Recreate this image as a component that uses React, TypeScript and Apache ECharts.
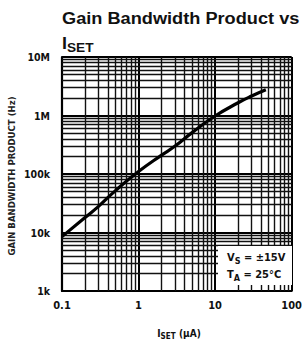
import React, { useEffect, useRef } from "react";
import * as echarts from "echarts";

const xValues = [0.1, 0.2, 0.3, 0.5, 1, 2, 3, 5, 10, 20, 30, 46];
const yValues = [8.5e3, 18e3, 28e3, 52e3, 110e3, 210e3, 300e3, 510e3, 980e3, 1.65e6, 2.15e6, 2.75e6];
const xTickLabels = ["0.1", "1", "10", "100"];
const yTickLabels = ["1k", "10k", "100k", "1M", "10M"];
const xDecades = [0.1, 1, 10];
const yDecades = [1e3, 1e4, 1e5, 1e6];
const minorSteps = [2, 3, 4, 5, 6, 7, 8, 9];

const FONT = "'DejaVu Sans Condensed', 'Liberation Sans Narrow', 'Liberation Sans', sans-serif";
const TFONT = "'Liberation Sans', Arial, sans-serif";

export default function App() {
  const ref = useRef<HTMLDivElement>(null);
  useEffect(() => {
    if (!ref.current) return;
    const chart = echarts.init(ref.current, undefined, { renderer: "svg" });
    const minorX: number[] = [];
    xDecades.forEach((d) => minorSteps.forEach((s) => minorX.push(+(d * s).toPrecision(3))));
    const minorY: number[] = [];
    yDecades.forEach((d) => minorSteps.forEach((s) => minorY.push(d * s)));
    const xLabelFor = (v: number) => {
      const i = Math.round(Math.log10(v) + 1);
      return xTickLabels[i] ?? "";
    };
    const yLabelFor = (v: number) => {
      const i = Math.round(Math.log10(v) - 3);
      return yTickLabels[i] ?? "";
    };
    chart.setOption({
      animation: false,
      backgroundColor: "#fff",
      grid: { left: 62, top: 57, right: 11, bottom: 51 },
      xAxis: {
        type: "log",
        logBase: 10,
        min: 0.1,
        max: 100,
        axisLine: { show: true, lineStyle: { color: "#000", width: 2.2 } },
        axisTick: { show: false },
        splitLine: { show: true, lineStyle: { color: "#000", width: 2 } },
        axisLabel: {
          formatter: (v: number) => xLabelFor(v),
          color: "#111",
          fontFamily: FONT,
          fontWeight: "bold",
          fontSize: 11,
          margin: 9,
        },
      },
      yAxis: {
        type: "log",
        logBase: 10,
        min: 1e3,
        max: 1e7,
        axisLine: { show: true, lineStyle: { color: "#000", width: 2.2 } },
        axisTick: { show: false },
        splitLine: { show: true, lineStyle: { color: "#000", width: 2 } },
        axisLabel: {
          formatter: (v: number) => yLabelFor(v),
          color: "#111",
          fontFamily: FONT,
          fontWeight: "bold",
          fontSize: 10.5,
          margin: 12,
        },
      },
      series: [
        {
          type: "line",
          data: xValues.map((x, i) => [x, yValues[i]]),
          smooth: true,
          showSymbol: false,
          lineStyle: { color: "#000", width: 3.2 },
          z: 5,
          markLine: {
            silent: true,
            symbol: "none",
            label: { show: false },
            lineStyle: { color: "#111", width: 1.4, type: "solid" },
            data: [
              ...minorX.map((v) => ({ xAxis: v })),
              ...minorY.map((v) => ({ yAxis: v })),
            ],
            z: 1,
          },
        },
      ],
      graphic: [
        {
          type: "text",
          x: 62,
          y: 10,
          scaleX: 1.07,
          style: { text: "Gain Bandwidth Product vs", font: `bold 17px ${TFONT}`, fill: "#111", verticalAlign: "top" },
        },
        {
          type: "text",
          x: 62,
          y: 33,
          scaleX: 1.05,
          style: {
            text: "{m|I}{s|SET}",
            verticalAlign: "top",
            rich: {
              m: { font: `bold 17px ${TFONT}`, fill: "#111", lineHeight: 21, verticalAlign: "middle" },
              s: { font: `bold 13px ${TFONT}`, fill: "#111", lineHeight: 21, verticalAlign: "bottom" },
            },
          },
        },
        {
          type: "text",
          x: 11,
          y: 176,
          rotation: Math.PI / 2,
          style: {
            text: "GAIN BANDWIDTH PRODUCT (Hz)",
            font: `bold 9.5px ${FONT}`,
            fill: "#222",
            align: "center",
            verticalAlign: "middle",
          },
        },
        {
          type: "text",
          x: 179,
          y: 333,
          style: {
            text: "{m|I}{s|SET} {m|(\u03bcA)}",
            align: "center",
            verticalAlign: "middle",
            rich: {
              m: { font: `bold 10px ${FONT}`, fill: "#111", lineHeight: 14, verticalAlign: "middle" },
              s: { font: `bold 8px ${FONT}`, fill: "#111", lineHeight: 14, verticalAlign: "bottom" },
            },
          },
        },
        {
          type: "rect",
          shape: { x: 218, y: 246, width: 74, height: 39 },
          style: { fill: "#fff" },
          z: 10,
        },
        {
          type: "text",
          x: 227,
          y: 257,
          z: 11,
          style: {
            text: "{m|V}{s|S}{m| = \u00b115V}",
            verticalAlign: "middle",
            rich: {
              m: { font: `bold 11px ${FONT}`, fill: "#111", lineHeight: 16, verticalAlign: "middle" },
              s: { font: `bold 9px ${FONT}`, fill: "#111", lineHeight: 16, verticalAlign: "bottom" },
            },
          },
        },
        {
          type: "text",
          x: 227,
          y: 274,
          z: 11,
          style: {
            text: "{m|T}{s|A}{m| = 25\u00b0C}",
            verticalAlign: "middle",
            rich: {
              m: { font: `bold 11px ${FONT}`, fill: "#111", lineHeight: 16, verticalAlign: "middle" },
              s: { font: `bold 9px ${FONT}`, fill: "#111", lineHeight: 16, verticalAlign: "bottom" },
            },
          },
        },
      ],
    });
    return () => chart.dispose();
  }, []);
  return (
    <div
      ref={ref}
      style={{ position: "fixed", left: 0, top: 0, width: 305, height: 342, background: "#fff" }}
    />
  );
}
